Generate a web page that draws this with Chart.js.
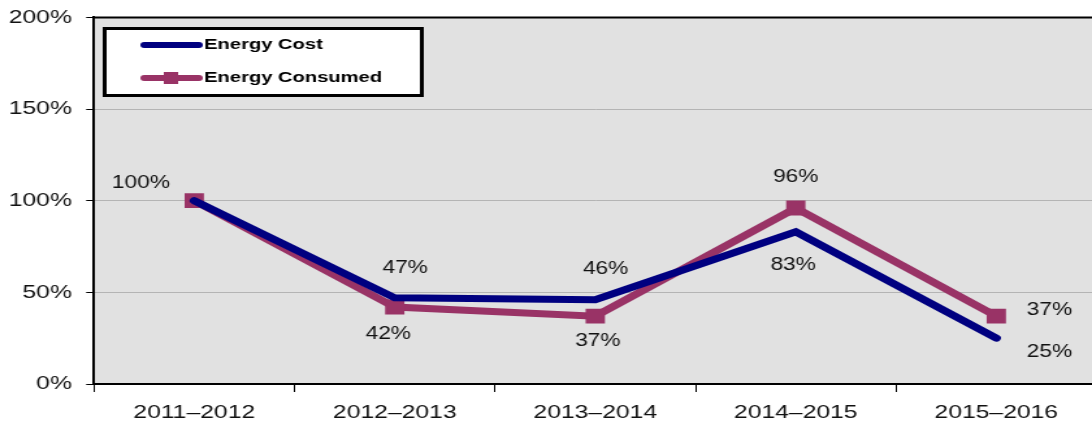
<!DOCTYPE html>
<html>
<head>
<meta charset="utf-8">
<script src="https://cdn.jsdelivr.net/npm/chart.js@4/dist/chart.umd.min.js"></script>
<style>
  html, body { margin: 0; padding: 0; background: #fff; overflow: hidden; }
  /* the original picture is stretched sideways, so the canvas is too */
  #wrap { width: 854px; height: 432px; margin-top: -5px; transform: scaleX(1.3); transform-origin: 0 0; }
</style>
</head>
<body>
<div id="wrap"><canvas id="energyChart" width="854" height="432"></canvas></div>
<script>
// chart values
var years = ['2011\u20132012', '2012\u20132013', '2013\u20132014', '2014\u20132015', '2015\u20132016'];
var energyCost = [100, 47, 46, 83, 25];
var energyConsumed = [100, 42, 37, 96, 37];
var yTicks = [0, 50, 100, 150, 200];

// where each value label sits relative to its point (null = no label)
var costLabelShift = [null, [8, -30], [8, -31], [-2, 33], [41, 14]];
var consumedLabelShift = [[-41, -18], [-5, 27], [2, 25], [0, -31], [41, -6]];

var FONT = '"Liberation Sans", Arial, sans-serif';

var plotBack = {
    id: 'plotBack',
    beforeDraw: function (chart) {
        var a = chart.chartArea, ctx = chart.ctx;
        ctx.save();
        ctx.fillStyle = '#e1e1e1';
        ctx.fillRect(a.left, a.top, a.right - a.left, a.bottom - a.top);
        ctx.restore();
    },
    afterDraw: function (chart) {
        var a = chart.chartArea, ctx = chart.ctx;
        ctx.save();
        // top frame line
        ctx.strokeStyle = '#000';
        ctx.lineWidth = 2;
        ctx.beginPath();
        ctx.moveTo(a.left, a.top);
        ctx.lineTo(a.right, a.top);
        ctx.stroke();

        // value labels
        ctx.fillStyle = '#111';
        ctx.font = '17.5px ' + FONT;
        ctx.textAlign = 'center';
        ctx.textBaseline = 'middle';
        var shifts = [costLabelShift, consumedLabelShift];
        chart.data.datasets.forEach(function (ds, i) {
            var meta = chart.getDatasetMeta(i);
            meta.data.forEach(function (pt, j) {
                var s = shifts[i][j];
                if (!s) return;
                ctx.fillText(ds.data[j] + '%', pt.x + s[0], pt.y + s[1]);
            });
        });

        // legend box (canvas is shifted up 5px)
        ctx.translate(0, 5);
        ctx.fillStyle = '#fff';
        ctx.fillRect(81, 29, 243, 66);
        ctx.strokeStyle = '#000';
        ctx.lineWidth = 3;
        ctx.strokeRect(80.5, 28.5, 244, 67);
        ctx.lineCap = 'round';
        ctx.lineWidth = 6;
        ctx.strokeStyle = chart.data.datasets[0].borderColor;
        ctx.beginPath(); ctx.moveTo(111, 45); ctx.lineTo(153, 45); ctx.stroke();
        ctx.strokeStyle = chart.data.datasets[1].borderColor;
        ctx.beginPath(); ctx.moveTo(111, 78); ctx.lineTo(153, 78); ctx.stroke();
        ctx.fillStyle = chart.data.datasets[1].borderColor;
        ctx.fillRect(126, 72, 11, 12);
        ctx.fillStyle = '#000';
        ctx.font = 'bold 15.5px ' + FONT;
        ctx.textAlign = 'left';
        ctx.fillText(chart.data.datasets[0].label, 157, 45);
        ctx.fillText(chart.data.datasets[1].label, 157, 78);
        ctx.restore();
    }
};

var ctx = document.getElementById('energyChart').getContext('2d');
var chart = new Chart(ctx, {
    type: 'line',
    data: {
        labels: years,
        datasets: [{
            label: 'Energy Cost',
            data: energyCost,
            borderColor: '#000080',
            backgroundColor: '#000080',
            borderWidth: 7,
            pointRadius: 0,
            borderCapStyle: 'round',
            tension: 0
        }, {
            label: 'Energy Consumed',
            data: energyConsumed,
            borderColor: '#993366',
            backgroundColor: '#993366',
            borderWidth: 7,
            pointStyle: 'rect',
            pointRadius: 10.5,
            pointBorderWidth: 0,
            tension: 0
        }]
    },
    options: {
        responsive: false,
        animation: false,
        layout: { padding: 0 },
        plugins: {
            legend: { display: false },
            tooltip: { enabled: false }
        },
        scales: {
            x: {
                offset: true,
                grid: {
                    offset: true,
                    drawOnChartArea: false,
                    drawTicks: true,
                    tickLength: 8,
                    color: '#000',
                    lineWidth: 1
                },
                border: { color: '#000', width: 2 },
                ticks: {
                    color: '#111',
                    font: { family: FONT, size: 19 },
                    padding: 9,
                    maxRotation: 0
                },
                afterFit: function (scale) { scale.height = 43; }
            },
            y: {
                min: 0,
                max: 200,
                afterBuildTicks: function (scale) {
                    scale.ticks = yTicks.map(function (v) { return { value: v }; });
                },
                grid: {
                    color: '#b4b4b4',
                    lineWidth: 1,
                    tickLength: 6,
                    tickColor: '#000'
                },
                border: { color: '#000', width: 2 },
                ticks: {
                    color: '#111',
                    font: { family: FONT, size: 19 },
                    padding: 11,
                    callback: function (v) { return v + '%'; }
                },
                afterFit: function (scale) { scale.width = 72.3; }
            }
        }
    },
    plugins: [plotBack]
});
</script>
</body>
</html>
